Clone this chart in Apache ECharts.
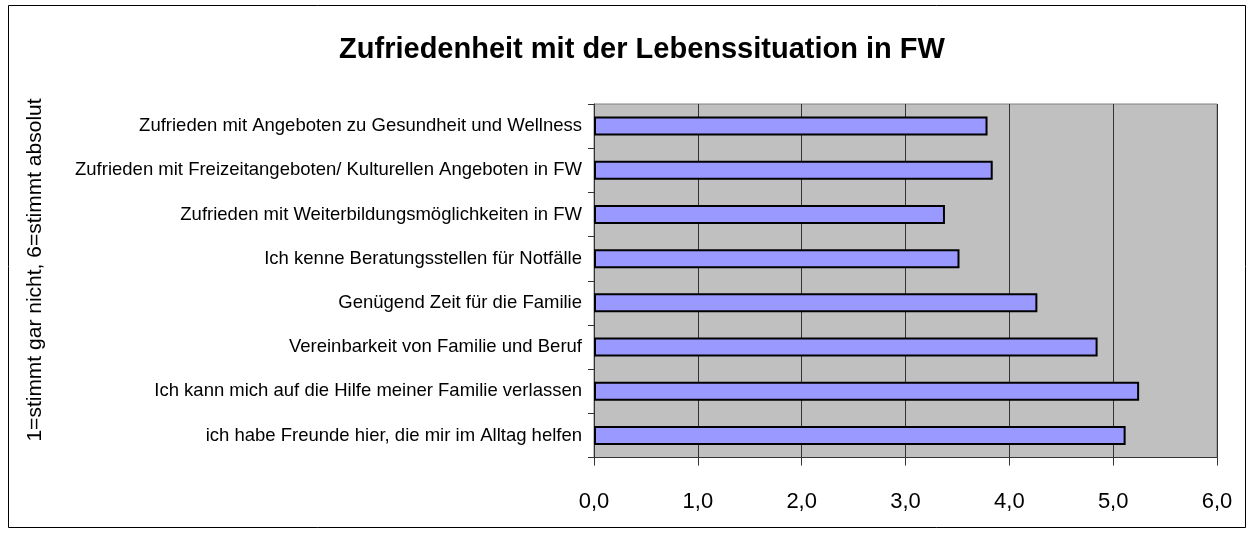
<!DOCTYPE html>
<html>
<head>
<meta charset="utf-8">
<script src="https://cdn.jsdelivr.net/npm/echarts@6/dist/echarts.min.js"></script>
<style>
  html, body { margin: 0; padding: 0; background: #fff; }
  #chart { width: 1254px; height: 536px; }
</style>
</head>
<body>
<div id="chart"></div>
<script>
// Statements, listed bottom to top as they appear on the category axis
const categories = [
  'ich habe Freunde hier, die mir im Alltag helfen',
  'Ich kann mich auf die Hilfe meiner Familie verlassen',
  'Vereinbarkeit von Familie und Beruf',
  'Genügend Zeit für die Familie',
  'Ich kenne Beratungsstellen für Notfälle',
  'Zufrieden mit Weiterbildungsmöglichkeiten in FW',
  'Zufrieden mit Freizeitangeboten/ Kulturellen Angeboten in FW',
  'Zufrieden mit Angeboten zu Gesundheit und Wellness'
];
// Mean agreement (1 = stimmt gar nicht, 6 = stimmt absolut)
const meanValues = [5.12, 5.25, 4.85, 4.27, 3.52, 3.38, 3.84, 3.79];

const chartTitle = 'Zufriedenheit mit der Lebenssituation in FW';
const axisName = '1=stimmt gar nicht, 6=stimmt absolut';

const chart = echarts.init(document.getElementById('chart'));
const font = '"Liberation Sans", Arial, sans-serif';

chart.setOption({
  animation: false,
  backgroundColor: '#ffffff',
  title: {
    text: chartTitle,
    left: 637,
    textAlign: 'center',
    top: 30,
    textStyle: { fontFamily: font, fontSize: 29, fontWeight: 'bold', color: '#000' }
  },
  graphic: [{
    type: 'rect',
    shape: { x: 8.5, y: 5.5, width: 1237, height: 522 },
    style: { fill: 'none', stroke: '#000', lineWidth: 1 },
    silent: true
  }, {
    type: 'text',
    x: 35,
    y: 270,
    rotation: Math.PI / 2,
    style: {
      text: axisName,
      font: '21px ' + font,
      fill: '#000',
      align: 'center',
      verticalAlign: 'middle'
    },
    silent: true
  }],
  grid: {
    left: 594,
    right: 37,
    top: 104,
    bottom: 78.5,
    show: true,
    backgroundColor: '#C0C0C0',
    borderColor: '#808080',
    borderWidth: 1
  },
  xAxis: {
    type: 'value',
    min: 0,
    max: 6,
    interval: 1,
    axisLine: { show: true, lineStyle: { color: '#333', width: 1 } },
    axisTick: { show: true, length: 8, lineStyle: { color: '#333' } },
    splitLine: { show: true, lineStyle: { color: '#333', width: 1 } },
    axisLabel: {
      margin: 33,
      fontFamily: font,
      fontSize: 22,
      color: '#000',
      formatter: v => v.toFixed(1).replace('.', ',')
    }
  },
  yAxis: {
    type: 'category',
    data: categories,
    axisLine: { show: true, lineStyle: { color: '#333', width: 1 } },
    axisTick: { show: true, length: 6, lineStyle: { color: '#333' } },
    axisLabel: { margin: 12, fontFamily: font, fontSize: 18.5, color: '#000' }
  },
  series: [{
    type: 'bar',
    data: meanValues,
    barWidth: '43%',
    itemStyle: { color: '#9999FF', borderColor: '#000', borderWidth: 2 }
  }]
});
</script>
</body>
</html>
